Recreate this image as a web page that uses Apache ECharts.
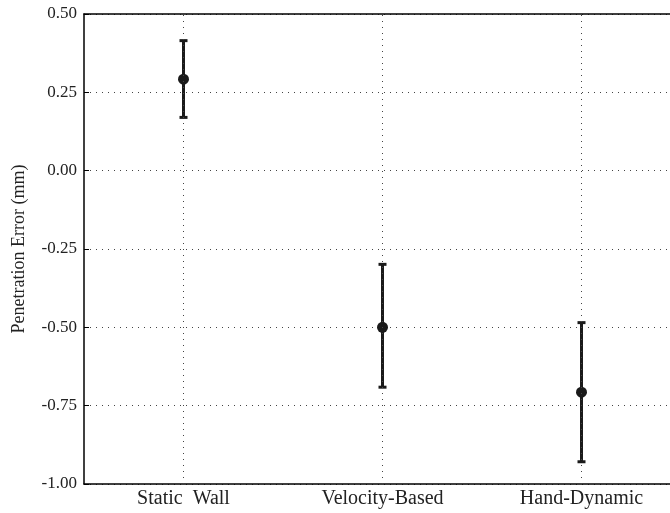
<!DOCTYPE html>
<html>
<head>
<meta charset="utf-8">
<script src="https://cdn.jsdelivr.net/npm/echarts@6/dist/echarts.min.js"></script>
<style>html,body{margin:0;padding:0;background:#fff}#c{width:670px;height:513px}</style>
</head>
<body>
<div id="c"></div>
<script>
var categories = ['Static  Wall', 'Velocity-Based', 'Hand-Dynamic'];
var means = [0.292, -0.500, -0.707];
var lows = [0.170, -0.691, -0.929];
var highs = [0.415, -0.299, -0.485];
var yTicks = [-1.00, -0.75, -0.50, -0.25, 0.00, 0.25, 0.50];

var font = 'Liberation Serif';
var ink = '#1a1a1a';
var chart = echarts.init(document.getElementById('c'));
var data = categories.map(function (c, i) { return [i, lows[i], highs[i], means[i]]; });

chart.setOption({
  animation: false,
  grid: { left: 84, top: 14, width: 597, height: 470, outerBoundsMode: 'none', containLabel: false },
  xAxis: [{
    type: 'category', data: categories, boundaryGap: true, position: 'bottom',
    axisLine: { onZero: false, lineStyle: { color: '#000', width: 1.5 } },
    axisTick: { inside: true, alignWithLabel: true, length: 5, lineStyle: { color: '#000' } },
    axisLabel: { fontFamily: font, fontSize: 20, color: '#222', margin: 5 },
    splitLine: { show: false }
  }, {
    type: 'category', data: categories, boundaryGap: true, position: 'top',
    axisLine: { onZero: false, lineStyle: { color: '#000', width: 1.5 } },
    axisTick: { inside: true, alignWithLabel: true, length: 5, lineStyle: { color: '#000' } },
    axisLabel: { show: false },
    splitLine: { show: false }
  }],
  yAxis: {
    type: 'value', min: yTicks[0], max: yTicks[yTicks.length - 1], interval: 0.25,
    name: 'Penetration Error (mm)', nameLocation: 'middle', nameGap: 56,
    nameTextStyle: { fontFamily: font, fontSize: 18, color: '#222' },
    axisLine: { show: true, onZero: false, lineStyle: { color: '#000', width: 1.5 } },
    axisTick: { show: true, inside: true, length: 5, lineStyle: { color: '#000' } },
    axisLabel: { fontFamily: font, fontSize: 17, color: '#222', margin: 7,
      formatter: function (v) { return v.toFixed(2); } },
    splitLine: { show: true, lineStyle: { color: '#444', type: [1, 5], width: 1 } }
  },
  series: [{
    type: 'custom',
    data: data,
    markLine: {
      silent: true, symbol: 'none', label: { show: false },
      lineStyle: { color: '#444', type: [1, 5], width: 1 },
      data: categories.map(function (c) { return { xAxis: c }; })
    },
    renderItem: function (params, api) {
      var x = api.value(0);
      var lo = api.coord([x, api.value(1)]);
      var hi = api.coord([x, api.value(2)]);
      var m = api.coord([x, api.value(3)]);
      var cap = 4;
      var st = { stroke: ink, lineWidth: 3 };
      return {
        type: 'group',
        children: [
          { type: 'line', shape: { x1: lo[0], y1: lo[1], x2: hi[0], y2: hi[1] }, style: st },
          { type: 'line', shape: { x1: lo[0] - cap, y1: lo[1], x2: lo[0] + cap, y2: lo[1] }, style: st },
          { type: 'line', shape: { x1: hi[0] - cap, y1: hi[1], x2: hi[0] + cap, y2: hi[1] }, style: st },
          { type: 'circle', shape: { cx: m[0], cy: m[1], r: 5.5 }, style: { fill: ink } }
        ]
      };
    }
  }]
});
</script>
</body>
</html>
